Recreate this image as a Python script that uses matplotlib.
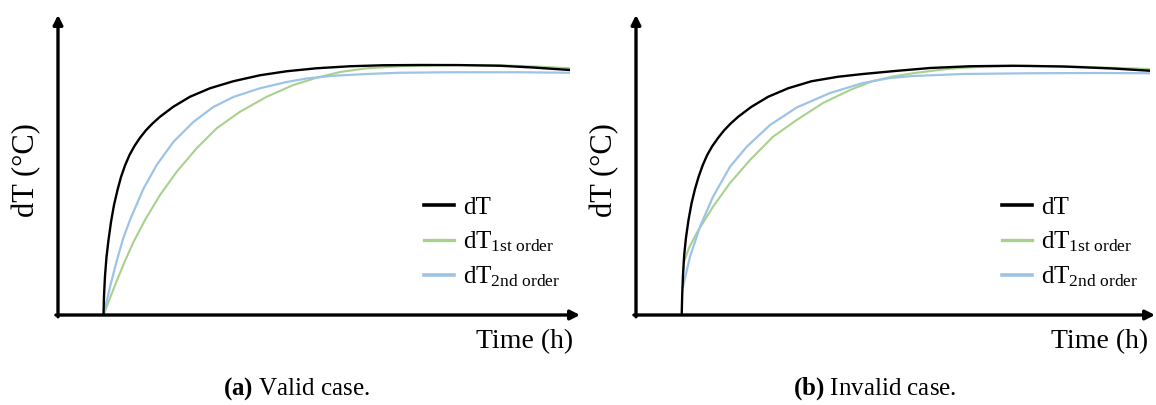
import matplotlib
matplotlib.use("Agg")
import matplotlib.pyplot as plt
from matplotlib.lines import Line2D

plt.rcParams['font.family'] = ['Liberation Serif', 'DejaVu Serif']
plt.rcParams['mathtext.fontset'] = 'custom'
plt.rcParams['mathtext.rm'] = 'Liberation Serif'
plt.rcParams['mathtext.it'] = 'Liberation Serif:italic'
plt.rcParams['mathtext.bf'] = 'Liberation Serif:bold'

# ---------------- data (arbitrary units) ----------------
# (a) Valid case
a_dT_t = [4.55, 4.6, 4.7, 4.85, 5.05, 5.3, 5.6, 5.95, 6.3, 6.7, 7.15, 7.65, 8.2, 8.8,
          9.45, 10.2, 11.53, 13.2, 15.2, 17.53, 20.2, 22.87, 25.87, 29.2, 32.53, 36.2,
          40.2, 44.2, 47.5, 51.2]
a_dT_v = [0.0, 7.6, 15.6, 23.2, 30.0, 37.2, 44.0, 50.0, 55.2, 59.8, 64.0, 67.6, 70.9,
          73.9, 76.6, 79.3, 83.3, 87.3, 90.7, 93.5, 95.9, 97.5, 98.7, 99.5, 99.9, 100.0,
          99.96, 99.7, 99.0, 98.0]
a_1st_t = [4.55, 5.2, 5.87, 6.7, 7.5, 8.7, 10.2, 11.87, 13.87, 15.87, 18.2, 20.87,
           23.53, 25.87, 28.2, 30.9, 34.2, 39.2, 44.2, 47.7, 51.2]
a_1st_v = [0.0, 6.8, 13.6, 21.6, 28.8, 38.0, 48.0, 57.3, 66.7, 74.7, 81.3, 87.3,
           92.0, 94.9, 97.2, 98.7, 99.5, 100.0, 99.9, 99.4, 98.7]
a_2nd_t = [4.55, 5.2, 5.87, 6.5, 7.2, 8.53, 9.87, 11.53, 13.53, 15.53, 17.53, 20.2,
           22.87, 24.87, 27.53, 30.87, 34.2, 39.2, 45.9, 51.2]
a_2nd_v = [0.0, 11.2, 21.6, 30.4, 38.0, 50.4, 60.0, 69.2, 77.2, 83.2, 87.2, 90.7,
           93.2, 94.6, 95.7, 96.4, 96.9, 97.1, 97.1, 96.9]

# (b) Invalid case
b_dT_t = [4.57, 4.62, 4.7, 4.82, 5.0, 5.25, 5.55, 5.9, 6.27, 6.67, 7.12, 7.62, 8.22,
          8.82, 9.47, 10.22, 11.55, 13.22, 15.22, 17.55, 20.2, 22.7, 25.9, 29.4, 33.4,
          37.7, 42.7, 47.7, 51.4]
b_dT_v = [0.0, 8.0, 16.0, 24.0, 31.0, 38.0, 44.6, 50.4, 55.4, 59.9, 64.0, 67.5, 70.9,
          73.9, 76.6, 79.3, 83.3, 87.3, 90.7, 93.5, 95.3, 96.4, 97.6, 98.8, 99.5,
          99.7, 99.4, 98.6, 97.7]
b_1st_t = [4.8, 5.3, 6.07, 7.7, 9.4, 11.4, 13.7, 16.07, 18.7, 21.4, 23.7, 25.7, 27.7,
           31.1, 34.4, 39.4, 44.4, 51.4]
b_1st_v = [21.3, 26.8, 32.8, 43.3, 52.8, 62.0, 71.3, 78.0, 84.8, 90.0, 93.6, 95.4,
           96.7, 98.4, 99.3, 99.7, 99.3, 98.4]
b_2nd_t = [4.67, 5.4, 6.4, 7.7, 9.4, 11.07, 13.4, 16.07, 19.4, 22.7, 25.4, 27.7,
           32.7, 39.4, 46.1, 51.4]
b_2nd_v = [10.8, 23.3, 35.3, 47.3, 59.3, 67.3, 76.0, 83.0, 88.8, 92.8, 94.8, 95.6,
           96.4, 96.7, 96.8, 96.7]

labels = ['dT', r'dT$_{\mathrm{1st\ order}}$', r'dT$_{\mathrm{2nd\ order}}$']
captions = [r'$\mathbf{(a)}$ Valid case.', r'$\mathbf{(b)}$ Invalid case.']
xlabel = 'Time (h)'
ylabel = 'dT (°C)'

c_black = '#000000'
c_green = '#A9D18E'
c_blue = '#9DC3E6'

# ---------------- figure ----------------
W, H = 1156, 405
fig = plt.figure(figsize=(W / 100, H / 100), dpi=100)

panels = [
    dict(x0=58, x1=580, data=((a_dT_t, a_dT_v), (a_1st_t, a_1st_v), (a_2nd_t, a_2nd_v)),
         cap_x=296, ylab_x=27),
    dict(x0=636, x1=1155, data=((b_dT_t, b_dT_v), (b_1st_t, b_1st_v), (b_2nd_t, b_2nd_v)),
         cap_x=875, ylab_x=605),
]
y_axis_px = 315
y_top_px = 15
px_per_t = 10.0
px_per_v = 2.5

for i, p in enumerate(panels):
    ax = fig.add_axes([p['x0'] / W, (H - y_axis_px) / H,
                       (p['x1'] - p['x0']) / W, (y_axis_px - y_top_px) / H])
    ax.set_xlim(0, (p['x1'] - p['x0']) / px_per_t)
    ax.set_ylim(0, (y_axis_px - y_top_px) / px_per_v)
    for s in ax.spines.values():
        s.set_visible(False)
    ax.set_xticks([])
    ax.set_yticks([])
    ax.patch.set_alpha(0)

    (t0, v0), (t1, v1), (t2, v2) = p['data']
    ax.plot(t1, v1, color=c_green, lw=1.5, solid_capstyle='butt', solid_joinstyle='round', zorder=3)
    ax.plot(t2, v2, color=c_blue, lw=1.6, solid_capstyle='butt', solid_joinstyle='round', zorder=3)
    ax.plot(t0, v0, color=c_black, lw=1.7, solid_capstyle='butt', solid_joinstyle='round', zorder=4)

    # arrowed axes
    arrow = dict(arrowstyle='-|>,head_length=0.55,head_width=0.28', lw=2.4,
                 color='black', shrinkA=0, shrinkB=0)
    ax.annotate('', xy=(1.0, 0.0), xytext=(-0.004, 0.0), xycoords='axes fraction',
                textcoords='axes fraction', arrowprops=arrow, annotation_clip=False)
    ax.annotate('', xy=(0.0, 1.0), xytext=(0.0, -0.006), xycoords='axes fraction',
                textcoords='axes fraction', arrowprops=arrow, annotation_clip=False)

    handles = [Line2D([], [], color=c_black, lw=2.6),
               Line2D([], [], color=c_green, lw=2.4),
               Line2D([], [], color=c_blue, lw=2.6)]
    lx = p['x0'] + 366
    ax.legend(handles, labels, loc='upper left', frameon=False, fontsize=18,
              bbox_to_anchor=((lx - p['x0']) / (p['x1'] - p['x0']),
                              (y_axis_px - 196) / (y_axis_px - y_top_px)),
              handlelength=1.2, handletextpad=0.35, labelspacing=0.43,
              borderaxespad=0, borderpad=0)

    fig.text((p['x1'] - 7) / W, 1 - 342 / H, xlabel, ha='right', va='center', fontsize=20)
    fig.text(p['ylab_x'] / W, 1 - 170 / H, ylabel, ha='center', va='center',
             rotation=90, fontsize=22)
    fig.text(p['cap_x'] / W, 1 - 389 / H, captions[i], ha='center', va='center',
             fontsize=18)

fig.savefig('out.png', dpi=100)
